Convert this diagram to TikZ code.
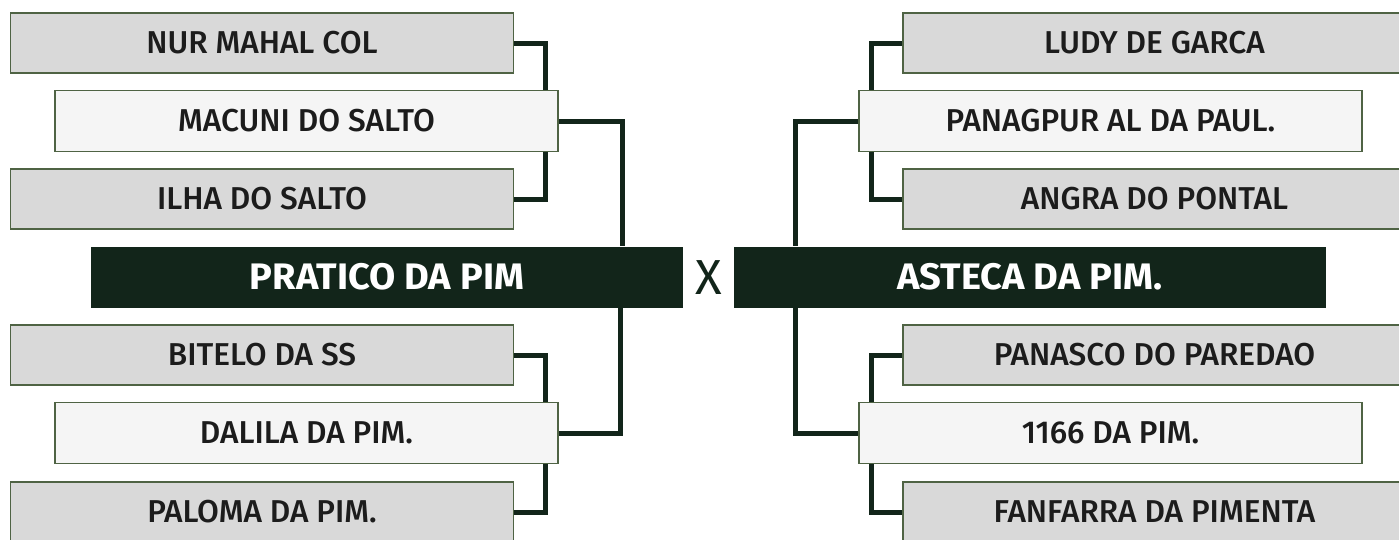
\documentclass[tikz,border=0pt]{standalone}
\usepackage{fontspec}
\setmainfont{Fira Sans}
\newfontfamily\entryfont{Fira Sans Medium}
\newfontfamily\headfont{Fira Sans}[FakeStretch=1.03]
\usepackage{tikz}
\usetikzlibrary{backgrounds}
\definecolor{pine}{HTML}{12251A}
\definecolor{olive}{HTML}{4F6344}
\definecolor{boxgray}{HTML}{D9D9D9}
\definecolor{boxlight}{HTML}{F5F5F5}
\definecolor{ink}{HTML}{1C1C1C}

\tikzset{
  entry/.style={draw=olive,line width=0.7pt,fill=boxgray,text=ink,
    minimum width=10.06cm,minimum height=1.2cm,inner sep=0pt,
    font=\entryfont\fontsize{18}{20}\selectfont},
  winner/.style={entry,fill=boxlight,minimum height=1.22cm},
  finalist/.style={fill=pine,text=white,minimum width=11.84cm,
    minimum height=1.22cm,inner sep=0pt,font=\headfont\bfseries\fontsize{21}{23}\selectfont},
  link/.style={draw=pine,line width=0.1cm}
}

\begin{document}
\begin{tikzpicture}[x=0.02cm,y=-0.02cm]
  \useasboundingbox (0,0) rectangle (1399,539);
  \clip (0,0) rectangle (1399,539);

  % left bracket
  \node[entry]  (nur)     at (262,43)    {NUR MAHAL COL};
  \node[winner] (macuni)  at (306.5,121) {MACUNI DO SALTO};
  \node[entry]  (ilha)    at (262,199)   {ILHA DO SALTO};
  \node[finalist] (pratico) at (387,277) {PRATICO DA PIM};
  \node[entry]  (bitelo)  at (262,355)   {BITELO DA SS};
  \node[winner] (dalila)  at (306.5,433) {DALILA DA PIM.};
  \node[entry]  (paloma)  at (262,512)   {PALOMA DA PIM.};

  \node[text=pine,inner sep=0pt,font=\fontsize{28}{30}\selectfont] (versus) at (709,278) {X};

  % right bracket
  \node[entry]  (ludy)     at (1154.5,43)  {LUDY DE GARCA};
  \node[winner] (panagpur) at (1110.5,121) {PANAGPUR AL DA PAUL.};
  \node[entry]  (angra)    at (1154.5,199) {ANGRA DO PONTAL};
  \node[finalist] (asteca) at (1030,277)   {ASTECA DA PIM.};
  \node[entry]  (panasco)  at (1154.5,355) {PANASCO DO PAREDAO};
  \node[winner] (mil)      at (1110.5,433) {1166 DA PIM.};
  \node[entry]  (fanfarra) at (1154.5,512) {FANFARRA DA PIMENTA};

  \begin{scope}[on background layer]
    \fill[white] (0,0) rectangle (1399,539);
    \draw[link] (nur.east) -- ++(31,0) |- (ilha.east);
    \draw[link] (bitelo.east) -- ++(31,0) |- (paloma.east);
    \draw[link] (macuni.east) -| ([xshift=-1.22cm]pratico.north east);
    \draw[link] ([xshift=-1.26cm]pratico.south east) |- (dalila.east);
    \draw[link] (ludy.west) -- ++(-31,0) |- (angra.west);
    \draw[link] (panasco.west) -- ++(-31,0) |- (fanfarra.west);
    \draw[link] (panagpur.west) -| ([xshift=1.24cm]asteca.north west);
    \draw[link] ([xshift=1.24cm]asteca.south west) |- (mil.west);
  \end{scope}
\end{tikzpicture}
\end{document}
